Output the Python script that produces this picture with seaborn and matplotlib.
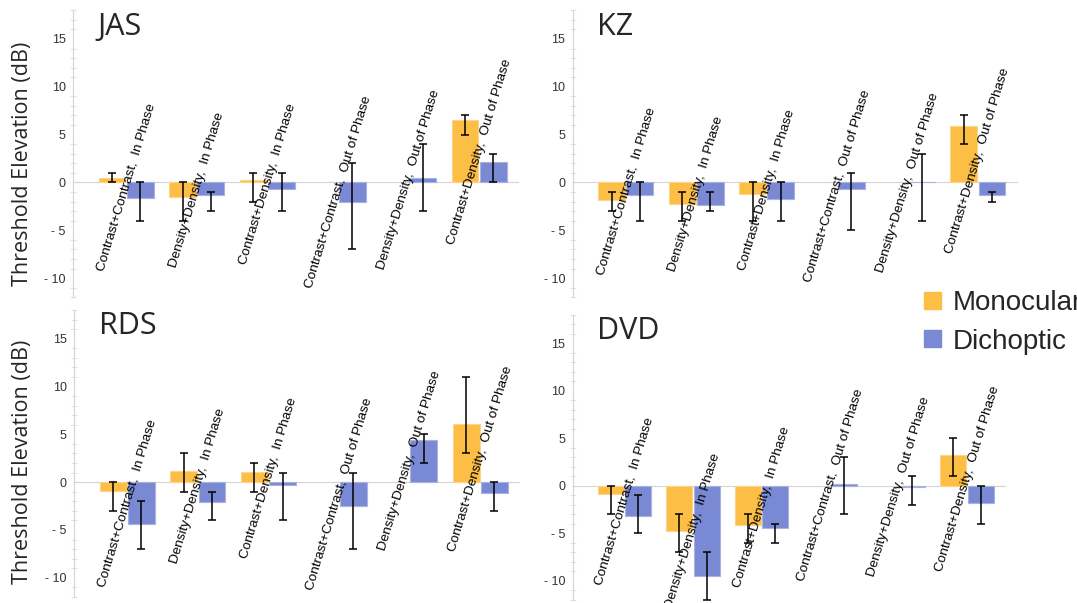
import numpy as np
import pandas as pd
import matplotlib
matplotlib.use("Agg")
import matplotlib.pyplot as plt
import matplotlib.colors as mcolors
import seaborn as sns
from matplotlib.patches import Patch
from matplotlib.ticker import MultipleLocator

nan = np.nan

# condiciones (eje x de cada panel)
categories = [
    "Contrast+Contrast,  In Phase",
    "Density+Density,  In Phase",
    "Contrast+Density,  In Phase",
    "Contrast+Contrast,  Out of Phase",
    "Density+Density,  Out of Phase",
    "Contrast+Density,  Out of Phase",
]
views = ["Monocular", "Dichoptic"]
subjects = ["JAS", "KZ", "RDS", "DVD"]

# JAS
jas_mono = [0.5, -1.55, 0.25, nan, nan, 6.5]
jas_mono_lo = [0, -4, -2, nan, nan, 5]
jas_mono_hi = [1, 0, 1, nan, nan, 7]
jas_dich = [-1.6, -1.35, -0.7, -2.0, 0.5, 2.1]
jas_dich_lo = [-4, -3, -3, -7, -3, 0]
jas_dich_hi = [0, -1, 1, 2, 4, 3]

# KZ
kz_mono = [-1.8, -2.2, -1.25, nan, nan, 5.95]
kz_mono_lo = [-3, -4, -4, nan, nan, 4]
kz_mono_hi = [-1, -1, 0, nan, nan, 7]
kz_dich = [-1.35, -2.4, -1.7, -0.7, 0.05, -1.35]
kz_dich_lo = [-4, -3, -4, -5, -4, -2]
kz_dich_hi = [0, -1, 0, 1, 3, -1]

# RDS
rds_mono = [-0.95, 1.2, 1.1, nan, nan, 6.05]
rds_mono_lo = [-3, -1, -1, nan, nan, 3]
rds_mono_hi = [0, 3, 2, nan, nan, 11]
rds_dich = [-4.35, -2.1, -0.25, -2.5, 4.4, -1.1]
rds_dich_lo = [-7, -4, -4, -7, 2, -3]
rds_dich_hi = [-2, -1, 1, 1, 5, 0]

# DVD
dvd_mono = [-0.9, -4.7, -4.15, nan, nan, 3.2]
dvd_mono_lo = [-3, -7, -6, nan, nan, 1]
dvd_mono_hi = [0, -3, -3, nan, nan, 5]
dvd_dich = [-3.15, -9.45, -4.45, 0.15, -0.15, -1.75]
dvd_dich_lo = [-5, -12, -6, -3, -2, -4]
dvd_dich_hi = [-1, -7, -4, 3, 1, 0]

datos = {
    "JAS": (jas_mono, jas_mono_lo, jas_mono_hi, jas_dich, jas_dich_lo, jas_dich_hi),
    "KZ": (kz_mono, kz_mono_lo, kz_mono_hi, kz_dich, kz_dich_lo, kz_dich_hi),
    "RDS": (rds_mono, rds_mono_lo, rds_mono_hi, rds_dich, rds_dich_lo, rds_dich_hi),
    "DVD": (dvd_mono, dvd_mono_lo, dvd_mono_hi, dvd_dich, dvd_dich_lo, dvd_dich_hi),
}

colores = {"Monocular": "#FDBE46", "Dichoptic": "#7A89D4"}
gris = "#d4d4d4"

sns.set_style("white")
plt.rcParams["font.family"] = ["Liberation Sans", "DejaVu Sans"]

fig = plt.figure(figsize=(10.77, 6.03), dpi=100)

# posiciones de los paneles en fraccion de figura
rects = {
    "JAS": [0.068, 0.507, 0.413, 0.476],
    "KZ": [0.532, 0.507, 0.412, 0.476],
    "RDS": [0.069, 0.010, 0.413, 0.476],
    "DVD": [0.532, 0.005, 0.401, 0.473],
}

x = np.arange(len(categories))

for name in subjects:
    mono, mono_lo, mono_hi, dich, dich_lo, dich_hi = [np.array(a, dtype=float) for a in datos[name]]
    ax = fig.add_axes(rects[name])

    df = pd.DataFrame({
        "cond": categories * 2,
        "view": ["Monocular"] * 6 + ["Dichoptic"] * 6,
        "val": np.concatenate([mono, dich]),
    })
    sns.barplot(data=df, x="cond", y="val", hue="view", order=categories,
                hue_order=views, palette=colores, width=0.8, gap=0.05,
                saturation=1, errorbar=None, legend=False, ax=ax, zorder=2)

    # borde claro de las barras
    for p in ax.patches:
        fc = np.array(mcolors.to_rgb(p.get_facecolor()))
        p.set_edgecolor(tuple(fc + (1 - fc) * 0.35))
        p.set_linewidth(0.8)

    # barras de error asimetricas
    for vals, lo, hi, off in [(mono, mono_lo, mono_hi, -0.2), (dich, dich_lo, dich_hi, 0.2)]:
        yerr = np.vstack([vals - lo, hi - vals])
        ax.errorbar(x + off, vals, yerr=yerr, fmt="none", ecolor="black",
                    elinewidth=1.1, capsize=3, capthick=1.1, zorder=4, clip_on=False)

    # etiquetas de condicion centradas en el grupo
    for i, cat in enumerate(categories):
        top = max(0, np.nanmax([mono[i], dich[i]]))
        bot = min(0, np.nanmin([mono[i], dich[i]]))
        ax.text(i, (top + bot) / 2, cat, rotation=73, ha="center", va="center",
                fontsize=9.7, color="black", zorder=5)

    ax.set_xlim(-0.75, 5.55)
    ax.set_ylim(-12, 18)
    ax.set_xlabel("")
    ax.set_ylabel("")

    sns.despine(ax=ax)
    ax.spines["bottom"].set_position(("data", 0))
    ax.spines["bottom"].set_color(gris)
    ax.spines["left"].set_color(gris)
    ax.spines["bottom"].set_zorder(1)

    ax.set_xticks(np.sort(np.concatenate([x - 0.4, x + 0.4])))
    ax.set_xticklabels([])
    ax.tick_params(axis="x", direction="out", length=4, color=gris, width=1)

    ax.set_yticks([-10, -5, 0, 5, 10, 15])
    ax.set_yticklabels(["- 10", "- 5", "0", "5", "10", "15"])
    ax.yaxis.set_minor_locator(MultipleLocator(1))
    ax.tick_params(axis="y", which="major", direction="inout", length=7, width=1,
                   color=gris, labelsize=9, labelcolor="#333333", pad=2)
    ax.tick_params(axis="y", which="minor", direction="inout", length=4, width=0.8,
                   color="#e2e2e2", left=True)

    ax.text(0.055, 0.915, name, transform=ax.transAxes, fontsize=22,
            family=["Open Sans", "DejaVu Sans"], va="baseline", ha="left")

# etiquetas del eje y por fila
for yc in [1 - 164 / 603, 1 - 462 / 603]:
    fig.text(0.021, yc, "Threshold Elevation (dB)", rotation=90, fontsize=15.5,
             family=["Open Sans", "DejaVu Sans"], ha="center", va="center")

handles = [Patch(facecolor=colores[v], edgecolor=colores[v]) for v in views]
fig.legend(handles, views, loc="upper left", bbox_to_anchor=(0.858, 0.519),
           frameon=False, fontsize=20, handlelength=0.6, handleheight=0.55,
           handletextpad=0.42, labelspacing=0.45, borderpad=0, borderaxespad=0)

fig.savefig("out.png", dpi=100)
